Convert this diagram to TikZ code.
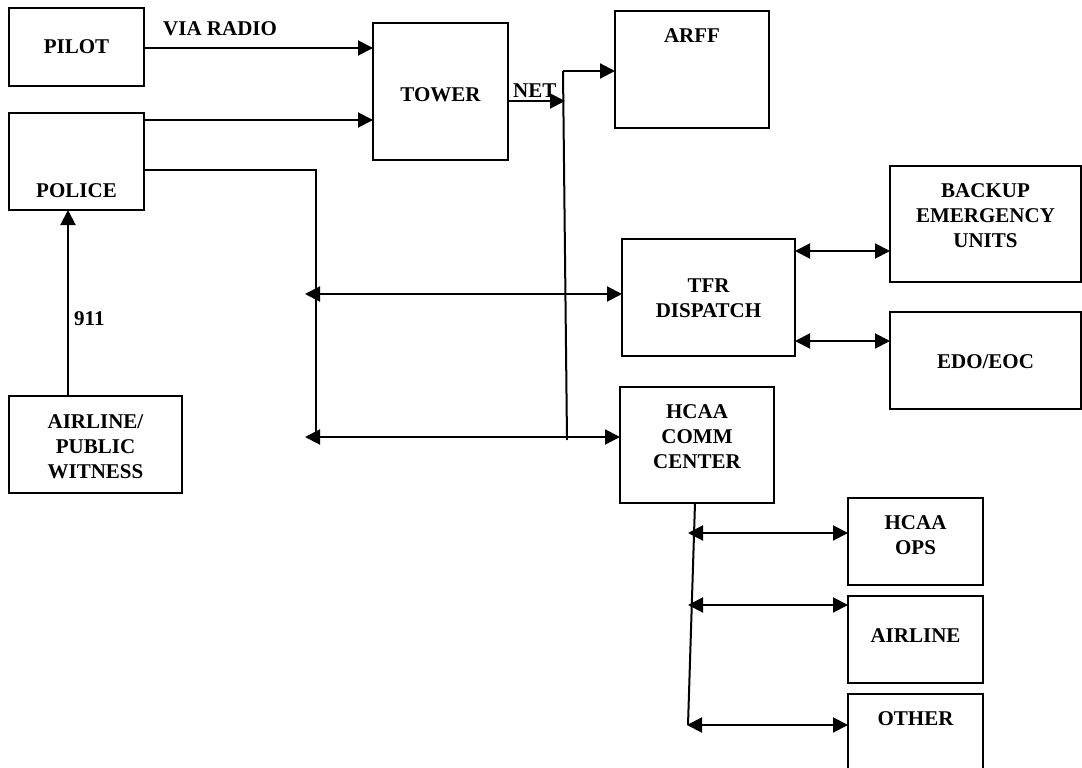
\documentclass[tikz,border=0pt]{standalone}
\usepackage{fontspec}
\setmainfont{Liberation Serif}
\usetikzlibrary{arrows.meta}
\newcommand\mlines[1]{\begin{tabular}[t]{@{}c@{}}#1\end{tabular}}
\tikzset{
  box/.style={draw, line width=2pt, inner sep=0pt, outer sep=0pt, anchor=north west,
    font={\fontsize{21}{25}\selectfont\bfseries}},
  lbl/.style={inner sep=0pt, anchor=base west, font={\fontsize{21}{25}\selectfont\bfseries}},
  conn/.style={line width=2pt},
  arr/.style={conn, -{Triangle[length=15pt,width=15pt]}},
  darr/.style={conn, {Triangle[length=15pt,width=15pt]}-{Triangle[length=15pt,width=15pt]}}
}
\begin{document}
\begin{tikzpicture}[x=1pt,y=-1pt]
\useasboundingbox (0,0) rectangle (1082,768);
% boxes: (left,top), width, height, first baseline offset
\node[box, minimum width=135pt, minimum height=78pt,  text height=46pt, text depth=32pt] (pilot)   at (9,8)    {PILOT};
\node[box, minimum width=135pt, minimum height=97pt,  text height=84pt, text depth=13pt] (police)  at (9,113)  {POLICE};
\node[box, minimum width=135pt, minimum height=137pt, text height=78pt, text depth=59pt] (tower)   at (373,23) {TOWER};
\node[box, minimum width=154pt, minimum height=117pt, text height=32pt, text depth=85pt] (arff)    at (615,11) {ARFF};
\node[box, minimum width=191pt, minimum height=116pt, text height=31pt, text depth=85pt] (backup)  at (890,166) {\mlines{BACKUP\\EMERGENCY\\UNITS}};
\node[box, minimum width=173pt, minimum height=117pt, text height=53pt, text depth=64pt] (tfr)     at (622,239) {\mlines{TFR\\DISPATCH}};
\node[box, minimum width=191pt, minimum height=97pt,  text height=56pt, text depth=41pt] (edo)     at (890,312) {EDO/EOC};
\node[box, minimum width=154pt, minimum height=116pt, text height=31pt, text depth=85pt] (hcaa)    at (620,387) {\mlines{HCAA\\COMM\\CENTER}};
\node[box, minimum width=173pt, minimum height=97pt,  text height=32pt, text depth=65pt] (witness) at (9,396)  {\mlines{AIRLINE/\\PUBLIC\\WITNESS}};
\node[box, minimum width=135pt, minimum height=87pt,  text height=31pt, text depth=56pt] (ops)     at (848,498) {\mlines{HCAA\\OPS}};
\node[box, minimum width=135pt, minimum height=87pt,  text height=46pt, text depth=41pt] (airline) at (848,596) {AIRLINE};
\node[box, minimum width=135pt, minimum height=81pt,  text height=31pt, text depth=50pt] (other)   at (848,694) {OTHER};
% labels
\node[lbl] (vialbl) at (163,36) {VIA RADIO};
\node[lbl] (netlbl) at (513,98) {NET};
\node[lbl] (lbl911) at (74,325) {911};
% helper coordinates
\coordinate (netend) at (565,101);
\coordinate (bt) at (563,71);
\coordinate (bb) at (567,440);
\coordinate (pc) at (316,170);
\coordinate (pb) at (316,437);
\coordinate (tl) at (305,294);
\coordinate (hl) at (305,437);
\coordinate (ht) at (695,503);
\coordinate (hb) at (688,725);
\coordinate (h1) at (688,533);
\coordinate (h2) at (688,605);
\coordinate (h3) at (687,725);
% connectors
\draw[arr] (pilot.east |- 0,48) -- (tower.west |- 0,48);
\draw[arr] (police.east |- 0,120) -- (tower.west |- 0,120);
\draw[arr] (tower.east |- netend) -- (netend);
\draw[conn] (bt) -- (bb);
\draw[arr] (bt) -- (bt -| arff.west);
\draw[conn] (police.east |- pc) -- (pc) -- (pb);
\draw[darr] (tl) -- (tl -| tfr.west);
\draw[darr] (hl) -- (hl -| hcaa.west);
\draw[darr] (tfr.east |- 0,251) -- (backup.west |- 0,251);
\draw[darr] (tfr.east |- 0,341) -- (edo.west |- 0,341);
\draw[conn] (ht) -- (hb);
\draw[darr] (h1) -- (h1 -| ops.west);
\draw[darr] (h2) -- (h2 -| airline.west);
\draw[darr] (h3) -- (h3 -| other.west);
\draw[arr] (witness.north -| 68,0) -- (police.south -| 68,0);
\end{tikzpicture}
\end{document}
